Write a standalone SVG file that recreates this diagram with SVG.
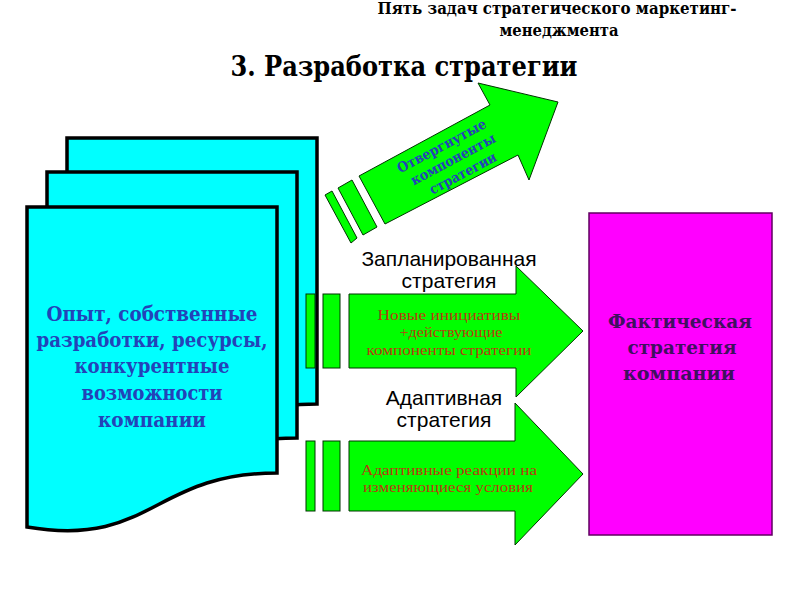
<svg xmlns="http://www.w3.org/2000/svg" width="794" height="595" viewBox="0 0 794 595">
<style>
.doc{fill:#00FFFF;stroke:#000;stroke-width:3.5;stroke-linejoin:miter}
.grn{fill:#00FF00;stroke:#003300;stroke-width:1}
.bs{font-family:"DejaVu Serif","Liberation Serif",serif;font-weight:bold;text-anchor:middle}
.ttl{fill:#000}
.blue{fill:#2343B8}
.lbl{font-family:"Liberation Sans",Arial,sans-serif;fill:#000;text-anchor:middle;font-size:21px}
.red{font-family:"Liberation Serif",serif;fill:#B83A10;text-anchor:middle;font-size:15px}
.mag{fill:#401060;font-size:19px}
</style>
<defs>
<path id="docShape" d="M0,0 H250 V266 C125,266 125,341 0,320 Z"/>
</defs>
<rect width="794" height="595" fill="#fff"/>
<g id="title">
<text class="bs ttl" x="557" y="14" font-size="16" textLength="359" lengthAdjust="spacingAndGlyphs">Пять задач стратегического маркетинг-</text>
<text class="bs ttl" x="559" y="36" font-size="16" textLength="119" lengthAdjust="spacingAndGlyphs">менеджмента</text>
<text class="bs ttl" x="404" y="76" font-size="28" textLength="347" lengthAdjust="spacingAndGlyphs">3. Разработка стратегии</text>
</g>
<g id="resources">
<use href="#docShape" class="doc" x="67" y="138"/>
<use href="#docShape" class="doc" x="47" y="172"/>
<use href="#docShape" class="doc" x="27" y="207"/>
<text class="bs blue" font-size="20"><tspan x="152" y="321" textLength="211" lengthAdjust="spacingAndGlyphs">Опыт, собственные</tspan><tspan x="152" y="347" textLength="231" lengthAdjust="spacingAndGlyphs">разработки, ресурсы,</tspan><tspan x="152" y="373" textLength="155" lengthAdjust="spacingAndGlyphs">конкурентные</tspan><tspan x="152" y="400" textLength="141" lengthAdjust="spacingAndGlyphs">возможности</tspan><tspan x="152" y="427" textLength="108" lengthAdjust="spacingAndGlyphs">компании</tspan></text>
</g>
<g id="connectors">
<g id="rejected">
<polygon class="grn" points="325,195 332,191 357,238 351,243"/>
<polygon class="grn" points="338,188 352,180 377,227 363,235"/>
<polygon class="grn" points="359,176 490,105 478,83 558,102 529,180 518,155 385,224"/>
<g transform="translate(453,159) rotate(-28)">
<text class="bs blue" font-size="14"><tspan x="-4" y="-12" textLength="99" lengthAdjust="spacingAndGlyphs">Отвергнутые</tspan><tspan x="0" y="5" textLength="94" lengthAdjust="spacingAndGlyphs">компоненты</tspan><tspan x="2" y="22" textLength="74" lengthAdjust="spacingAndGlyphs">стратегии</tspan></text>
</g>
</g>
<g id="planned">
<rect class="grn" x="306" y="294" width="9" height="74"/>
<rect class="grn" x="323" y="294" width="17" height="74"/>
<polygon class="grn" points="349,294 516,294 516,266 583,331 516,397 516,368 349,368"/>
<text class="red"><tspan x="449" y="320" textLength="143" lengthAdjust="spacingAndGlyphs">Новые инициативы</tspan><tspan x="451" y="337" textLength="103" lengthAdjust="spacingAndGlyphs">+действующие</tspan><tspan x="449" y="355" textLength="165" lengthAdjust="spacingAndGlyphs">компоненты стратегии</tspan></text>
</g>
<g id="adaptive">
<rect class="grn" x="306" y="441" width="9" height="70"/>
<rect class="grn" x="323" y="441" width="17" height="70"/>
<polygon class="grn" points="349,441 515,441 515,403 583,474 515,545 515,511 349,511"/>
<text class="red"><tspan x="449" y="475" textLength="176" lengthAdjust="spacingAndGlyphs">Адаптивные реакции на</tspan><tspan x="448" y="492" textLength="170" lengthAdjust="spacingAndGlyphs">изменяющиеся условия</tspan></text>
</g>
</g>
<g id="planned-label">
<text class="lbl"><tspan x="449" y="266">Запланированная</tspan><tspan x="449" y="288">стратегия</tspan></text>
</g>
<g id="adaptive-label">
<text class="lbl"><tspan x="444" y="405">Адаптивная</tspan><tspan x="444" y="427">стратегия</tspan></text>
</g>
<g id="actual">
<rect x="589" y="213" width="183" height="322" fill="#FF00FF" stroke="#600060" stroke-width="1.5"/>
<text class="bs mag"><tspan x="680" y="328" textLength="144" lengthAdjust="spacingAndGlyphs">Фактическая</tspan><tspan x="682" y="354" textLength="109" lengthAdjust="spacingAndGlyphs">стратегия</tspan><tspan x="679" y="380" textLength="112" lengthAdjust="spacingAndGlyphs">компании</tspan></text>
</g>
</svg>
